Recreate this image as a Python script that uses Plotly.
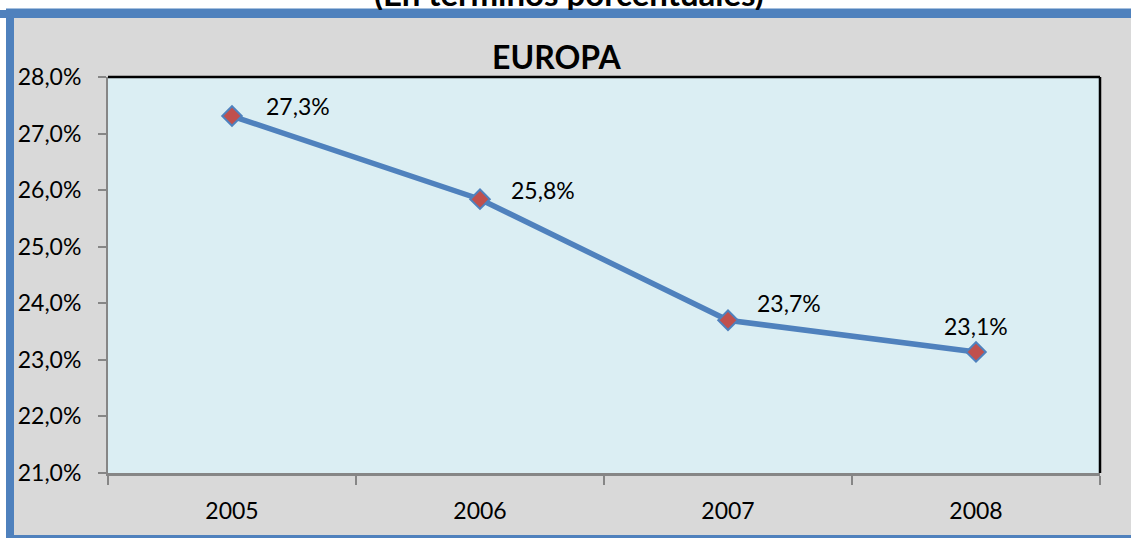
import plotly.graph_objects as go

# data
years = ['2005', '2006', '2007', '2008']
europe_share = [27.31, 25.84, 23.70, 23.14]
label_shift_x = [66, 63, 61, 0]
label_shift_y = [10, 9, 17, 26]

W, H = 1131, 538
L, R, T, B = 108, 31, 77, 65
PW, PH = W - L - R, H - T - B

def fx(p):
    # page pixel -> paper x
    return (p - L) / PW

def fy(p):
    # page pixel -> paper y
    return (H - B - p) / PH

blue = '#4f81bd'
font = 'Lato, Calibri, sans-serif'

fig = go.Figure()
fig.add_trace(go.Scatter(
    x=years, y=europe_share, mode='lines+markers',
    line=dict(color=blue, width=5.5),
    marker=dict(symbol='diamond', size=15, color='#c0504d',
                line=dict(color=blue, width=2)),
    hoverinfo='skip', showlegend=False))

annotations = []
for i, (v, dx, dy) in enumerate(zip(europe_share, label_shift_x, label_shift_y)):
    annotations.append(dict(
        x=i, y=v, xref='x', yref='y', showarrow=False,
        text=('%.1f%%' % v).replace('.', ','),
        xshift=dx, yshift=dy, font=dict(family=font, size=23, color='black')))

# page title, partly hidden by the frame
annotations.append(dict(
    x=fx(569), y=fy(15), xref='paper', yref='paper', showarrow=False,
    xanchor='center', yanchor='bottom',
    text='<b>(En términos porcentuales)</b>',
    font=dict(family=font, size=33, color='black')))
# blue band of the frame drawn over the title's descenders
annotations.append(dict(
    x=fx(565), y=fy(13.5), xref='paper', yref='paper', showarrow=False,
    xanchor='center', yanchor='middle', text=' ', width=1200, height=8,
    bgcolor=blue, borderpad=0, borderwidth=0, font=dict(size=4)))
annotations.append(dict(
    x=fx(556), y=fy(57), xref='paper', yref='paper', showarrow=False,
    xanchor='center', yanchor='middle', text='<b>EUROPA</b>',
    font=dict(family=font, size=32, color='black')))

shapes = [
    # white strip at the very top
    dict(type='rect', xref='paper', yref='paper', x0=fx(-10), x1=fx(W + 10),
         y0=fy(9), y1=fy(-10), fillcolor='white', line=dict(width=0), layer='below'),
    # white strip at the left edge
    dict(type='rect', xref='paper', yref='paper', x0=fx(-10), x1=fx(6),
         y0=fy(H + 10), y1=fy(-10), fillcolor='white', line=dict(width=0), layer='below'),
    # blue frame
    dict(type='rect', xref='paper', yref='paper', x0=fx(10), x1=fx(W + 20),
         y0=fy(539), y1=fy(12.5), line=dict(color=blue, width=8)),
    # black top and right border of the plot area
    dict(type='line', xref='paper', yref='paper', x0=0, x1=1, y0=1, y1=1,
         line=dict(color='black', width=2.5)),
    dict(type='line', xref='paper', yref='paper', x0=1, x1=1, y0=0, y1=1,
         line=dict(color='black', width=2.5)),
]

fig.update_layout(
    width=W, height=H,
    margin=dict(l=L, r=R, t=T, b=B),
    paper_bgcolor='#d9d9d9', plot_bgcolor='#dbeef3',
    separators=',.',
    font=dict(family=font, size=23, color='black'),
    annotations=annotations, shapes=shapes,
    xaxis=dict(type='category', range=[-0.5, 3.5], showgrid=False,
               showline=True, linecolor='#868686', linewidth=3,
               ticks='outside', tickson='boundaries', ticklen=9, tickwidth=2,
               tickcolor='#868686', ticklabelstandoff=15,
               tickfont=dict(family=font, size=23)),
    yaxis=dict(range=[21, 28], dtick=1, tickformat='.1f', ticksuffix='%',
               showgrid=False, zeroline=False, showline=True,
               linecolor='#868686', linewidth=2, ticks='outside', ticklen=8,
               tickwidth=2, tickcolor='#868686', ticklabelstandoff=12,
               tickfont=dict(family=font, size=23)),
)

# the page body has no margin so the figure fills the window
fig.write_html('out.html', config={'displayModeBar': False},
               post_script="document.body.style.margin='0px';")
